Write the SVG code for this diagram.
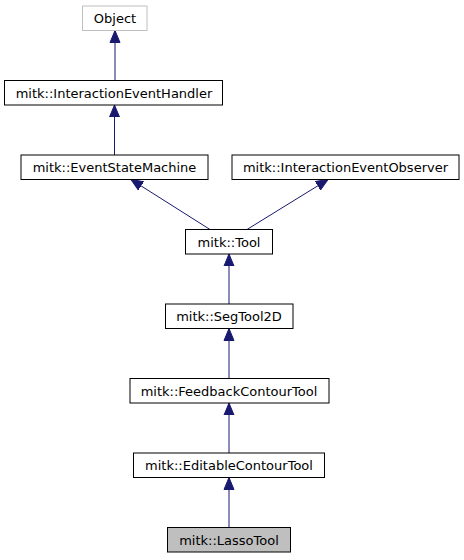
<svg xmlns="http://www.w3.org/2000/svg" width="464" height="560" viewBox="0 0 464 560">
<defs>
<marker id="ah" markerUnits="userSpaceOnUse" markerWidth="12" markerHeight="12" viewBox="0 0 12 12" refX="12" refY="6" orient="auto">
<path d="M0,1 L12,6 L0,11 Z" fill="#191970" stroke="#191970" stroke-width="1"/>
</marker>
</defs>
<style>
rect{fill:#fff;stroke:#000;stroke-width:1}
.root rect{stroke:#bfbfbf}
.cur rect{fill:#bfbfbf}
text{font-family:"DejaVu Sans",sans-serif;font-size:13px;text-anchor:middle;fill:#000}
.e{stroke:#191970;stroke-width:1;fill:none;marker-end:url(#ah)}
</style>
<rect x="0" y="0" width="464" height="560" style="fill:#fff;stroke:none"/>
<g id="edges">
<line class="e" x1="115" y1="80.5" x2="115" y2="30.5"/>
<line class="e" x1="114.5" y1="155" x2="114.5" y2="105"/>
<line class="e" x1="210" y1="229.5" x2="131" y2="179.5"/>
<line class="e" x1="247" y1="229.5" x2="328" y2="179.5"/>
<line class="e" x1="229" y1="304" x2="229" y2="254"/>
<line class="e" x1="229" y1="378.5" x2="229" y2="328.5"/>
<line class="e" x1="229" y1="453" x2="229" y2="403"/>
<line class="e" x1="229" y1="527.5" x2="229" y2="477.5"/>
</g>
<g id="n_object" class="root"><rect x="82.5" y="6" width="64.5" height="24.5"/><text x="115" y="23">Object</text></g>
<g id="n_ieh"><rect x="4.5" y="80.5" width="218" height="24.5"/><text x="114" y="97.5">mitk::InteractionEventHandler</text></g>
<g id="n_esm"><rect x="21" y="155" width="187" height="24.5"/><text x="114.5" y="172">mitk::EventStateMachine</text></g>
<g id="n_ieo"><rect x="232" y="155" width="227" height="24.5"/><text x="345.5" y="172">mitk::InteractionEventObserver</text></g>
<g id="n_tool"><rect x="185.5" y="229.5" width="87" height="24.5"/><text x="229" y="246.5">mitk::Tool</text></g>
<g id="n_seg"><rect x="165.5" y="304" width="127.5" height="24.5"/><text x="229" y="321">mitk::SegTool2D</text></g>
<g id="n_fct"><rect x="130" y="378.5" width="199" height="24.5"/><text x="229" y="395.5">mitk::FeedbackContourTool</text></g>
<g id="n_ect"><rect x="133.5" y="453" width="191" height="24.5"/><text x="229" y="470">mitk::EditableContourTool</text></g>
<g id="n_lasso" class="cur"><rect x="167.5" y="527.5" width="123" height="24.5"/><text x="229" y="544.5">mitk::LassoTool</text></g>
</svg>
